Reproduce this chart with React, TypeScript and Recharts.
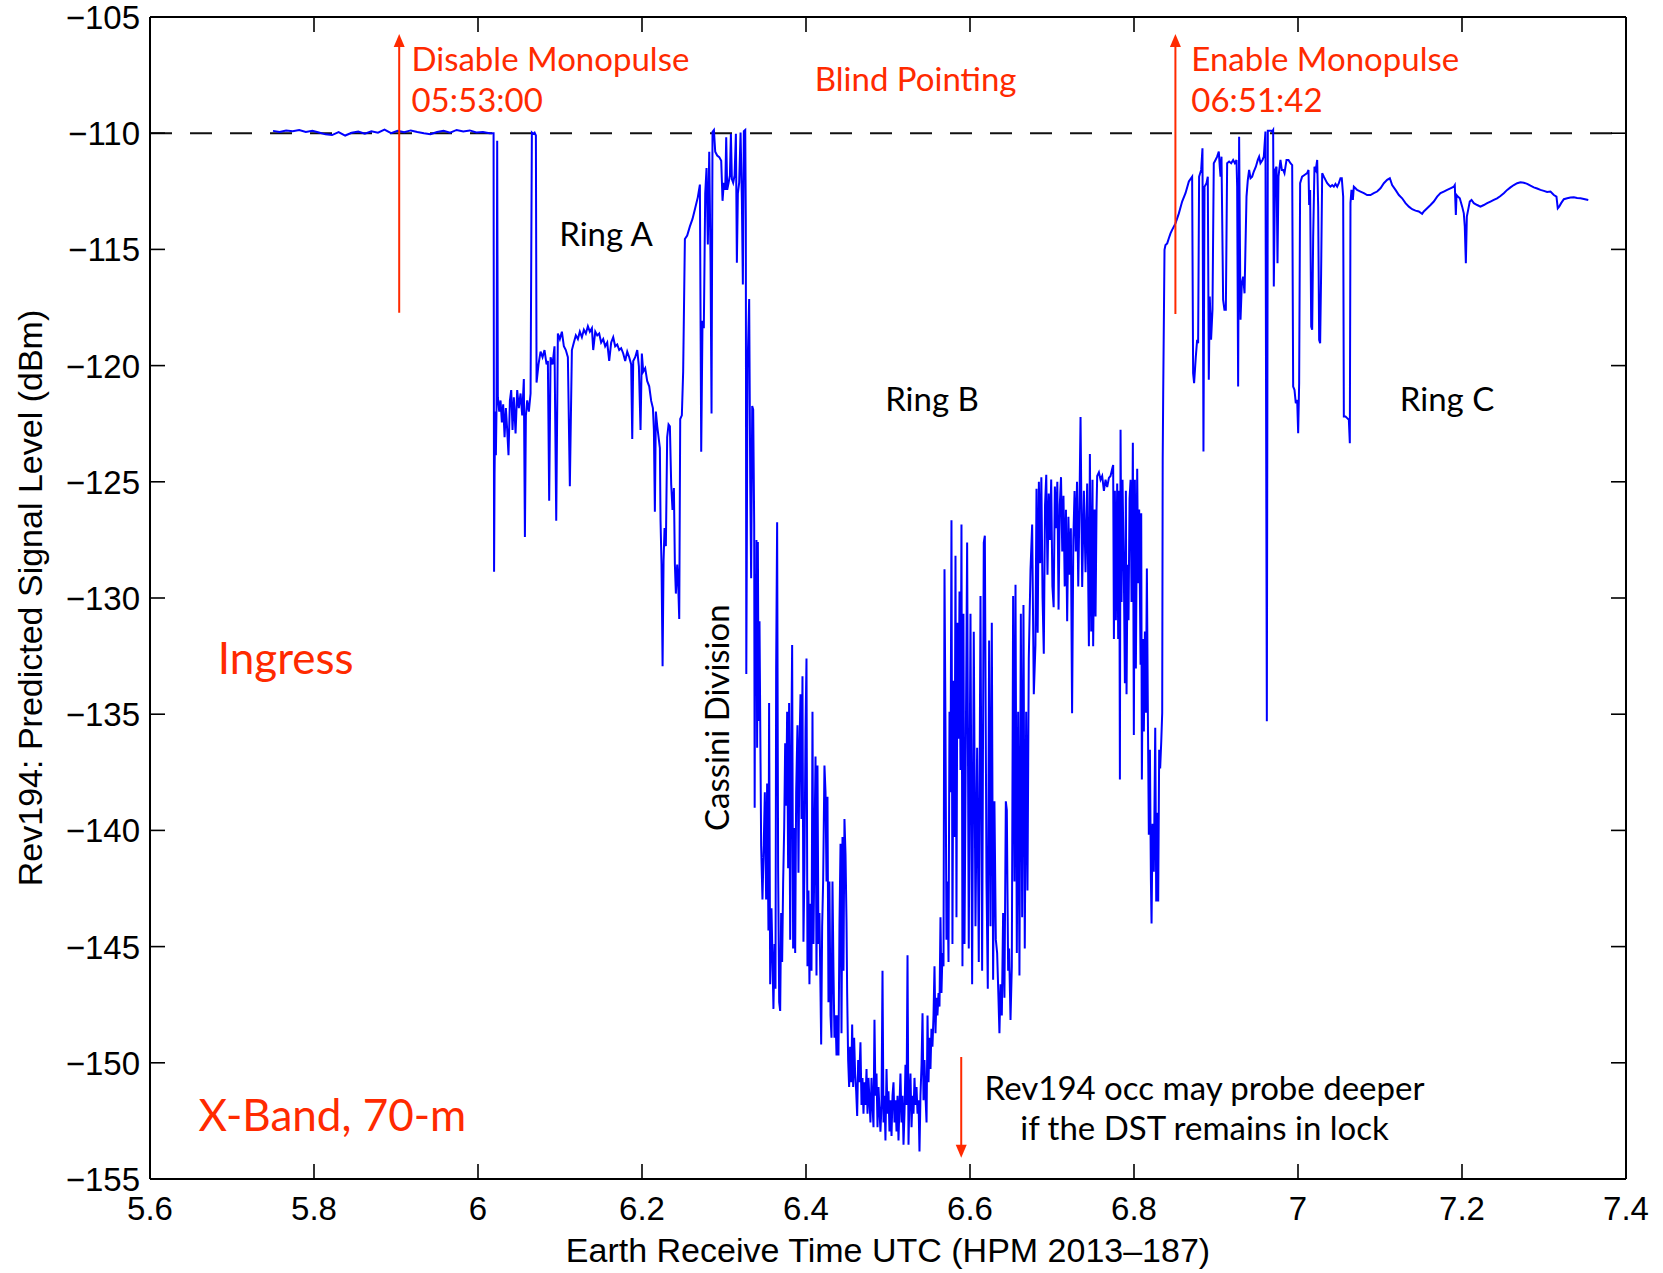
import React from 'react';
import { LineChart, Line, XAxis, YAxis, ReferenceLine, ReferenceDot } from 'recharts';

// [hours UTC, predicted signal level dBm]
const preRings: [number, number][] = [
  [5.750,-109.90],[5.758,-109.95],[5.766,-109.88],[5.774,-109.92],[5.782,-109.86],[5.790,-109.95],
  [5.798,-109.90],[5.806,-109.97],[5.814,-110.05],[5.822,-110.08],[5.830,-109.95],[5.838,-110.10],
  [5.846,-109.98],[5.854,-109.93],[5.862,-110.02],[5.870,-109.92],[5.878,-109.98],[5.886,-109.85],
  [5.894,-110.00],[5.902,-109.90],[5.910,-109.96],[5.918,-109.88],[5.926,-109.95],[5.934,-110.00],
  [5.942,-110.04],[5.950,-109.95],[5.958,-109.90],[5.966,-109.98],[5.974,-109.86],[5.982,-109.93],
  [5.990,-109.88],[5.998,-109.97],[6.006,-109.95],[6.014,-110.00],[6.019,-110.00],
];

const ringA: [number, number][] = [
  [6.0196,-128.87],[6.0202,-124.64],[6.0210,-121.98],[6.0218,-123.86],[6.0226,-121.83],[6.0234,-110.33],
  [6.0242,-121.36],[6.0259,-121.98],[6.0275,-121.50],[6.0291,-122.45],[6.0307,-121.67],[6.0324,-123.08],
  [6.0340,-121.83],[6.0356,-122.77],[6.0372,-123.86],[6.0389,-121.50],[6.0405,-121.05],[6.0421,-122.77],
  [6.0437,-121.36],[6.0458,-122.92],[6.0478,-121.05],[6.0498,-121.83],[6.0519,-121.20],[6.0539,-122.14],
  [6.0559,-120.58],[6.0572,-127.38],[6.0584,-122.14],[6.0600,-121.50],[6.0620,-121.98],[6.0641,-121.20],
  [6.0657,-109.97],[6.0673,-110.02],[6.0690,-109.97],[6.0706,-110.10],[6.0714,-120.73],[6.0738,-119.95],
  [6.0763,-119.40],[6.0787,-119.64],[6.0811,-119.33],[6.0836,-119.95],[6.0852,-119.80],[6.0868,-125.82],
  [6.0885,-119.64],[6.0909,-119.95],[6.0933,-119.17],[6.0954,-126.68],[6.0974,-118.62],[6.0998,-118.86],
  [6.1023,-118.54],[6.1047,-119.17],[6.1071,-119.33],[6.1096,-119.64],[6.1120,-125.19],[6.1145,-119.33],
  [6.1169,-119.01],[6.1193,-118.70],[6.1218,-118.86],[6.1242,-118.54],[6.1267,-118.78],[6.1291,-118.46],
  [6.1315,-118.62],[6.1340,-118.31],[6.1364,-118.54],[6.1389,-118.39],[6.1405,-119.33],[6.1430,-118.54],
  [6.1454,-118.70],[6.1478,-118.62],[6.1502,-119.01],[6.1527,-118.86],[6.1551,-119.17],[6.1576,-119.01],
  [6.1600,-119.80],[6.1624,-119.01],[6.1649,-118.78],[6.1673,-119.17],[6.1698,-119.09],[6.1722,-119.33],
  [6.1746,-119.25],[6.1771,-119.48],[6.1795,-119.80],[6.1820,-119.40],[6.1844,-119.64],[6.1868,-119.95],
  [6.1881,-123.16],[6.1893,-119.80],[6.1917,-119.64],[6.1942,-119.33],[6.1962,-120.03],[6.1982,-122.77],
  [6.1998,-119.48],[6.2015,-120.26],[6.2039,-120.11],[6.2063,-120.66],[6.2088,-120.89],[6.2112,-121.52],
  [6.2133,-121.83],[6.2145,-122.77],[6.2157,-126.29],[6.2169,-121.98],[6.2186,-122.61],[6.2202,-123.08],
  [6.2218,-123.55],[6.2226,-126.68],[6.2238,-128.56],[6.2251,-132.94],[6.2263,-128.40],[6.2275,-126.99],
  [6.2291,-127.77],[6.2307,-123.08],[6.2324,-122.53],[6.2340,-122.61],[6.2356,-125.11],[6.2372,-126.21],
  [6.2389,-125.27],[6.2401,-128.56],[6.2413,-129.81],[6.2429,-128.56],[6.2441,-129.34],[6.2454,-130.90],
  [6.2466,-122.30],[6.2486,-122.14],[6.2502,-120.26],[6.2523,-114.55],[6.2551,-114.40],[6.2584,-114.01],
  [6.2616,-113.69],[6.2649,-113.22],[6.2681,-112.75],[6.2706,-112.21],[6.2722,-123.71],[6.2738,-118.07],
  [6.2754,-118.39],[6.2771,-112.60],[6.2787,-111.50],[6.2803,-114.79],[6.2820,-110.80],[6.2836,-115.57],
  [6.2848,-122.06],[6.2860,-109.94],[6.2877,-109.86],[6.2893,-110.80],[6.2917,-110.96],[6.2942,-111.03],
  [6.2966,-111.19],[6.2982,-112.91],[6.2998,-112.13],[6.3015,-112.44],[6.3027,-110.17],[6.3039,-112.44],
  [6.3056,-112.13],[6.3072,-111.82],[6.3084,-110.02],[6.3096,-111.97],[6.3112,-112.13],[6.3129,-111.82],
  [6.3145,-110.02],[6.3157,-115.57],[6.3169,-112.60],[6.3185,-112.13],[6.3202,-109.97],[6.3218,-112.91],
  [6.3230,-116.51],[6.3242,-109.91],[6.3259,-109.86],[6.3266,-113.69],
];

const ringB: [number, number][] = [
  [6.3272,-133.27],[6.3287,-120.10],[6.3307,-117.13],[6.3320,-125.03],[6.3331,-129.15],[6.3344,-121.74],
  [6.3356,-121.90],[6.3368,-126.85],[6.3374,-139.03],[6.3381,-128.99],[6.3388,-133.20],[6.3396,-127.50],
  [6.3404,-136.44],[6.3413,-127.59],[6.3422,-135.29],[6.3433,-131.00],[6.3453,-140.67],[6.3469,-142.97],
  [6.3485,-140.57],[6.3498,-138.36],[6.3514,-142.97],[6.3526,-137.98],[6.3542,-144.31],[6.3550,-134.52],
  [6.3563,-146.62],[6.3579,-143.35],[6.3591,-145.47],[6.3603,-147.68],[6.3616,-144.89],[6.3628,-146.81],
  [6.3636,-132.98],[6.3648,-126.74],[6.3660,-141.63],[6.3673,-147.39],[6.3685,-147.77],[6.3697,-143.55],
  [6.3709,-145.66],[6.3721,-142.30],[6.3734,-139.90],[6.3746,-136.25],[6.3758,-138.94],[6.3770,-134.90],
  [6.3782,-141.63],[6.3794,-134.52],[6.3807,-144.70],[6.3819,-137.21],[6.3831,-132.02],[6.3843,-145.08],
  [6.3855,-139.90],[6.3868,-145.28],[6.3880,-138.36],[6.3896,-135.48],[6.3908,-141.82],[6.3920,-136.44],
  [6.3933,-134.14],[6.3945,-139.51],[6.3957,-133.37],[6.3969,-144.79],[6.3981,-141.63],[6.3994,-135.67],
  [6.4006,-132.60],[6.4018,-145.85],[6.4030,-142.59],[6.4042,-146.62],[6.4055,-143.16],[6.4067,-146.04],
  [6.4079,-134.90],[6.4091,-144.89],[6.4103,-140.67],[6.4116,-136.82],[6.4128,-146.24],[6.4140,-137.21],
  [6.4152,-144.89],[6.4164,-143.55],[6.4177,-147.00],[6.4185,-149.21],[6.4197,-144.12],[6.4209,-142.20],
  [6.4225,-137.21],[6.4238,-138.36],[6.4250,-142.20],[6.4262,-138.55],[6.4274,-147.39],[6.4286,-142.20],
  [6.4299,-147.96],[6.4311,-148.92],[6.4323,-142.20],[6.4335,-146.04],[6.4347,-148.92],[6.4360,-147.96],
  [6.4372,-149.69],[6.4384,-147.96],[6.4396,-149.69],[6.4408,-144.12],[6.4421,-140.57],[6.4433,-148.73],
  [6.4445,-140.28],[6.4457,-146.04],[6.4469,-139.51],[6.4482,-141.05],[6.4494,-143.93],[6.4502,-147.00],
  [6.4514,-149.88],[6.4526,-151.04],[6.4538,-149.31],[6.4551,-150.84],[6.4563,-148.35],[6.4575,-151.04],
  [6.4587,-148.92],[6.4599,-150.46],[6.4612,-151.23],[6.4624,-152.29],[6.4636,-149.88],[6.4648,-150.84],
  [6.4664,-149.12],[6.4677,-151.81],[6.4689,-150.65],[6.4701,-152.19],[6.4713,-150.84],[6.4725,-151.81],
  [6.4738,-150.27],[6.4750,-152.19],[6.4762,-150.65],[6.4774,-151.61],[6.4786,-152.57],[6.4799,-150.65],
  [6.4811,-151.81],[6.4823,-152.77],[6.4835,-148.15],[6.4847,-151.42],[6.4860,-150.46],[6.4872,-152.77],
  [6.4884,-151.04],[6.4896,-152.00],[6.4908,-152.96],[6.4921,-151.81],[6.4933,-146.04],[6.4945,-152.57],
  [6.4957,-151.42],[6.4969,-153.34],[6.4982,-150.27],[6.4994,-152.19],[6.5006,-151.23],[6.5018,-152.96],
  [6.5030,-151.61],[6.5043,-153.15],[6.5055,-151.42],[6.5067,-150.84],[6.5079,-152.57],[6.5091,-151.61],
  [6.5104,-152.96],[6.5116,-151.42],[6.5128,-153.34],[6.5140,-151.81],[6.5152,-150.46],[6.5165,-152.57],
  [6.5177,-151.42],[6.5189,-153.53],[6.5201,-152.19],[6.5213,-150.08],[6.5226,-151.81],[6.5238,-145.37],
  [6.5250,-153.53],[6.5262,-151.42],[6.5274,-150.46],[6.5287,-152.77],[6.5299,-151.42],[6.5311,-152.19],
  [6.5323,-150.65],[6.5335,-151.81],[6.5348,-151.04],[6.5360,-152.19],[6.5372,-151.61],[6.5384,-153.82],
  [6.5396,-151.42],[6.5409,-150.08],[6.5421,-147.87],[6.5433,-151.61],[6.5445,-149.88],[6.5457,-151.42],
  [6.5470,-152.57],[6.5482,-147.96],[6.5494,-150.84],[6.5506,-148.92],[6.5518,-150.27],[6.5530,-148.54],
  [6.5542,-149.31],[6.5555,-147.96],[6.5567,-145.85],[6.5579,-148.73],[6.5591,-147.20],[6.5603,-147.96],
  [6.5616,-147.00],[6.5628,-147.58],[6.5640,-143.74],[6.5652,-147.00],[6.5664,-145.28],[6.5677,-145.85],
  [6.5689,-128.76],[6.5701,-135.67],[6.5713,-144.70],[6.5725,-142.20],[6.5738,-145.66],[6.5750,-134.90],
  [6.5762,-138.36],[6.5774,-126.65],[6.5786,-144.89],[6.5799,-133.56],[6.5811,-140.28],[6.5823,-128.18],
  [6.5835,-143.74],[6.5847,-131.06],[6.5860,-136.06],[6.5872,-129.72],[6.5884,-137.40],[6.5896,-126.84],
  [6.5908,-145.85],[6.5920,-130.68],[6.5933,-144.89],[6.5965,-127.61],[6.5985,-145.08],[6.6006,-130.68],
  [6.6026,-146.62],[6.6046,-131.45],[6.6067,-144.12],[6.6087,-136.44],[6.6107,-145.66],[6.6128,-129.91],
  [6.6148,-146.04],[6.6168,-127.61],[6.6181,-127.32],[6.6201,-142.20],[6.6217,-146.81],[6.6233,-131.83],
  [6.6250,-144.12],[6.6266,-131.06],[6.6282,-146.43],[6.6298,-138.75],[6.6315,-144.70],[6.6331,-145.28],
  [6.6347,-147.20],[6.6359,-148.73],[6.6372,-146.62],[6.6388,-147.96],[6.6404,-143.55],[6.6420,-147.20],
  [6.6437,-138.75],[6.6449,-139.13],[6.6465,-146.04],[6.6477,-145.08],[6.6494,-148.16],[6.6510,-145.85],
  [6.6526,-129.91],[6.6542,-142.20],[6.6555,-129.43],[6.6571,-145.28],[6.6587,-134.90],[6.6603,-146.24],
  [6.6620,-130.68],[6.6636,-143.74],[6.6652,-130.30],[6.6668,-145.08],[6.6685,-134.90],[6.6701,-142.59],
  [6.6717,-132.60],[6.6738,-128.76],[6.6758,-126.84],[6.6778,-134.14],[6.6798,-132.02],[6.6811,-125.30],
  [6.6825,-131.50],[6.6840,-125.00],[6.6855,-128.50],[6.6870,-124.80],[6.6885,-130.00],[6.6900,-132.40],
  [6.6915,-126.00],[6.6930,-124.70],[6.6945,-129.00],[6.6960,-125.50],[6.6975,-127.50],[6.6990,-124.90],
  [6.7005,-129.50],[6.7020,-130.40],[6.7035,-125.20],[6.7050,-127.00],[6.7065,-125.00],[6.7080,-130.50],
  [6.7095,-126.00],[6.7110,-124.80],[6.7125,-128.00],[6.7140,-125.60],[6.7155,-129.50],[6.7170,-126.20],
  [6.7185,-131.00],[6.7200,-126.50],[6.7215,-129.00],[6.7230,-127.00],[6.7245,-134.96],[6.7260,-127.50],
  [6.7275,-125.40],[6.7290,-128.00],[6.7305,-125.00],[6.7320,-129.50],[6.7335,-126.00],[6.7348,-122.21],
  [6.7368,-129.53],[6.7389,-125.39],[6.7409,-128.89],[6.7429,-125.07],[6.7450,-132.08],[6.7462,-123.80],
  [6.7478,-131.44],[6.7494,-124.91],[6.7502,-132.08],[6.7519,-126.19],[6.7531,-130.80],[6.7543,-126.19],
  [6.7551,-124.75],[6.7572,-124.59],[6.7592,-124.91],[6.7612,-124.75],[6.7633,-125.39],[6.7653,-124.91],
  [6.7673,-125.23],[6.7694,-124.83],[6.7714,-124.75],[6.7734,-124.44],[6.7746,-124.28],[6.7755,-131.76],
  [6.7767,-125.39],[6.7779,-130.96],[6.7795,-125.07],[6.7807,-131.76],[6.7820,-125.39],[6.7828,-137.81],
  [6.7836,-122.76],[6.7848,-130.17],[6.7860,-124.91],[6.7876,-128.89],[6.7889,-133.67],[6.7901,-125.39],
  [6.7909,-134.14],[6.7921,-128.57],[6.7933,-130.96],[6.7946,-125.71],[6.7958,-124.91],[6.7970,-130.17],
  [6.7978,-127.78],[6.7986,-123.32],[6.7998,-135.90],[6.8011,-124.91],[6.8023,-133.03],[6.8039,-124.44],
  [6.8051,-129.37],[6.8063,-126.19],[6.8080,-132.87],[6.8088,-126.35],[6.8096,-137.81],[6.8108,-131.76],
  [6.8120,-135.74],[6.8133,-131.44],[6.8145,-134.94],[6.8157,-128.73],[6.8169,-134.94],[6.8181,-140.19],
  [6.8194,-136.53],[6.8206,-142.10],[6.8214,-144.01],[6.8226,-139.71],[6.8242,-141.78],[6.8259,-135.58],
  [6.8271,-143.06],[6.8283,-139.24],[6.8295,-143.06],[6.8307,-136.53],[6.8319,-137.33],[6.8332,-136.21],
  [6.8344,-134.94],[6.8350,-124.06],
];

const ringC: [number, number][] = [
  [6.8356,-121.25],[6.8372,-115.02],[6.8384,-114.81],[6.8405,-114.74],[6.8425,-114.52],[6.8445,-114.31],
  [6.8465,-114.16],[6.8506,-113.88],[6.8547,-113.45],[6.8587,-112.94],[6.8628,-112.58],[6.8669,-112.08],
  [6.8709,-111.87],[6.8721,-120.33],[6.8733,-120.76],[6.8754,-119.61],[6.8770,-118.89],[6.8782,-119.04],
  [6.8794,-111.87],[6.8819,-111.58],[6.8835,-110.65],[6.8847,-123.70],[6.8860,-112.30],[6.8884,-112.15],
  [6.8900,-111.87],[6.8912,-120.61],[6.8924,-117.03],[6.8940,-118.89],[6.8957,-117.60],[6.8973,-111.29],
  [6.8994,-111.15],[6.9014,-111.01],[6.9034,-110.79],[6.9046,-111.44],[6.9055,-111.87],[6.9067,-111.01],
  [6.9087,-117.17],[6.9103,-117.60],[6.9120,-117.60],[6.9136,-111.29],[6.9160,-111.22],[6.9185,-111.29],
  [6.9209,-111.15],[6.9230,-111.29],[6.9250,-111.15],[6.9258,-112.30],[6.9270,-120.90],[6.9282,-110.15],
  [6.9299,-118.03],[6.9315,-116.46],[6.9331,-116.17],[6.9348,-116.89],[6.9372,-112.73],[6.9388,-112.01],
  [6.9404,-111.58],[6.9421,-111.94],[6.9441,-111.87],[6.9461,-111.65],[6.9486,-111.44],[6.9510,-111.15],
  [6.9526,-111.01],[6.9542,-111.29],[6.9567,-111.15],[6.9583,-111.01],[6.9603,-109.93],[6.9620,-135.30],
  [6.9632,-109.89],[6.9652,-109.89],[6.9673,-109.89],[6.9685,-109.93],[6.9697,-109.86],[6.9705,-116.60],
  [6.9721,-111.58],[6.9738,-111.44],[6.9750,-115.60],[6.9762,-111.87],[6.9786,-111.15],[6.9803,-111.58],
  [6.9819,-111.58],[6.9835,-111.72],[6.9860,-111.15],[6.9884,-111.15],[6.9908,-111.29],[6.9929,-111.37],
  [6.9941,-120.90],[6.9957,-121.04],[6.9973,-121.62],[6.9990,-121.48],[7.0002,-122.91],[7.0014,-120.76],
  [7.0026,-112.15],[7.0050,-111.87],[7.0079,-111.80],[7.0112,-111.72],[7.0128,-111.58],[7.0136,-113.09],
  [7.0148,-112.44],[7.0161,-118.32],[7.0173,-118.46],[7.0185,-114.45],[7.0201,-111.44],[7.0217,-111.58],
  [7.0234,-111.15],[7.0246,-113.16],[7.0258,-118.89],[7.0270,-119.04],[7.0282,-116.03],[7.0295,-111.72],
  [7.0315,-111.87],[7.0335,-112.01],[7.0356,-112.15],[7.0376,-112.23],[7.0396,-112.30],[7.0417,-112.23],
  [7.0437,-112.30],[7.0457,-112.18],[7.0478,-112.30],[7.0498,-112.15],[7.0518,-111.94],[7.0534,-111.94],
  [7.0551,-112.73],[7.0559,-122.19],[7.0579,-122.19],[7.0600,-122.26],[7.0620,-122.33],[7.0632,-123.34],
  [7.0640,-113.01],[7.0652,-112.44],[7.0669,-112.87],[7.0681,-112.30],[7.0701,-112.37],[7.0721,-112.44],
  [7.0762,-112.51],[7.0803,-112.58],[7.0843,-112.66],[7.0884,-112.66],[7.0924,-112.58],[7.0965,-112.51],
  [7.1006,-112.37],[7.1047,-112.15],[7.1087,-112.01],[7.1120,-111.94],[7.1148,-112.23],[7.1189,-112.44],
  [7.1230,-112.66],[7.1270,-112.80],[7.1311,-113.01],[7.1352,-113.16],[7.1392,-113.27],[7.1433,-113.33],
  [7.1473,-113.37],[7.1514,-113.47],[7.1534,-113.37],[7.1575,-113.23],[7.1616,-113.09],[7.1656,-112.94],
  [7.1697,-112.73],[7.1738,-112.58],[7.1778,-112.51],[7.1819,-112.44],[7.1859,-112.37],[7.1900,-112.30],
  [7.1912,-112.23],[7.1925,-113.52],[7.1933,-112.66],[7.1949,-112.73],[7.1973,-112.80],[7.2002,-113.16],
  [7.2022,-113.45],[7.2034,-114.02],[7.2047,-115.60],[7.2059,-113.59],[7.2075,-113.30],[7.2095,-112.94],
  [7.2116,-112.87],[7.2144,-113.01],[7.2185,-113.09],[7.2225,-113.16],[7.2266,-113.09],[7.2307,-113.01],
  [7.2347,-112.94],[7.2388,-112.87],[7.2428,-112.80],[7.2469,-112.70],[7.2510,-112.58],[7.2551,-112.44],
  [7.2591,-112.33],[7.2632,-112.23],[7.2673,-112.15],[7.2713,-112.11],[7.2754,-112.13],[7.2795,-112.18],
  [7.2835,-112.26],[7.2876,-112.33],[7.2916,-112.38],[7.2957,-112.44],[7.2998,-112.48],[7.3038,-112.53],
  [7.3079,-112.51],[7.3120,-112.66],[7.3152,-112.73],[7.3168,-113.23],[7.3185,-113.16],[7.3209,-113.01],
  [7.3242,-112.84],[7.3283,-112.80],[7.3323,-112.77],[7.3364,-112.76],[7.3404,-112.79],[7.3445,-112.80],
  [7.3486,-112.83],[7.3540,-112.87],
];

const xTicks = [5.6, 5.8, 6, 6.2, 6.4, 6.6, 6.8, 7, 7.2, 7.4];
const yTicks = [-155, -150, -145, -140, -135, -130, -125, -120, -115, -110, -105];
const threshold = -110;

const data = [...preRings, ...ringA, ...ringB, ...ringC].map(([t, v]) => ({ t, v }));

const W = 1663;
const H = 1273;
const TOP = 17;
const RIGHT = 37;
const X_AXIS_H = 94;
const Y_AXIS_W = 150;
const TICK_LEN = 15;
const AXIS_FONT = '"Liberation Sans", Arial, Helvetica, sans-serif';
const NOTE_FONT = 'Lato, "Open Sans", sans-serif';
const RED = '#ff2a00';

const XTick = (p: any) => {
  const { x, y, payload } = p;
  return (
    <g>
      <line x1={x} y1={y} x2={x} y2={y - TICK_LEN} stroke="#000" strokeWidth={1.6} />
      <line x1={x} y1={TOP} x2={x} y2={TOP + TICK_LEN} stroke="#000" strokeWidth={1.6} />
      <text x={x} y={y + 41} textAnchor="middle" fontSize={33} fontFamily={AXIS_FONT} fill="#000">
        {String(payload.value)}
      </text>
    </g>
  );
};

const YTick = (p: any) => {
  const { x, y, payload } = p;
  const right = W - RIGHT;
  return (
    <g>
      <line x1={x} y1={y} x2={x + TICK_LEN} y2={y} stroke="#000" strokeWidth={1.6} />
      <line x1={right} y1={y} x2={right - TICK_LEN} y2={y} stroke="#000" strokeWidth={1.6} />
      <text x={x - 10} y={y + 12} textAnchor="end" fontSize={33} fontFamily={AXIS_FONT} fill="#000">
        {'\u2212' + Math.abs(payload.value)}
      </text>
    </g>
  );
};

const XTitle = (p: any) => {
  const vb = p.viewBox || {};
  return (
    <text x={vb.x + vb.width / 2} y={H - 11} textAnchor="middle" fontSize={34} fontFamily={AXIS_FONT} fill="#000">
      Earth Receive Time UTC (HPM 2013–187)
    </text>
  );
};

const YTitle = (p: any) => {
  const vb = p.viewBox || {};
  const cy = vb.y + vb.height / 2;
  return (
    <text x={42} y={cy} transform={`rotate(-90 42 ${cy})`} textAnchor="middle" fontSize={34} fontFamily={AXIS_FONT} fill="#000">
      Rev194: Predicted Signal Level (dBm)
    </text>
  );
};

const arrowShape = (color: string) => (p: any) => {
  const { x1, y1, x2, y2 } = p;
  const dir = y2 < y1 ? 1 : -1;
  return (
    <g>
      <line x1={x1} y1={y1} x2={x2} y2={y2 + dir * 10} stroke={color} strokeWidth={2} />
      <polygon points={`${x2},${y2} ${x2 - 5.5},${y2 + dir * 13} ${x2 + 5.5},${y2 + dir * 13}`} fill={color} />
    </g>
  );
};

interface Note {
  x: number;
  y: number;
  text: string;
  color: string;
  size: number;
  anchor: 'start' | 'middle' | 'end';
  angle?: number;
}

const notes: Note[] = [
  { x: 5.9189, y: -107.33, text: 'Disable Monopulse', color: RED, size: 33, anchor: 'start' },
  { x: 5.9189, y: -109.07, text: '05:53:00', color: RED, size: 33, anchor: 'start' },
  { x: 6.5337, y: -108.19, text: 'Blind Pointing', color: RED, size: 33, anchor: 'middle' },
  { x: 6.8699, y: -107.33, text: 'Enable Monopulse', color: RED, size: 33, anchor: 'start' },
  { x: 6.8699, y: -109.07, text: '06:51:42', color: RED, size: 33, anchor: 'start' },
  { x: 6.1561, y: -114.85, text: 'Ring A', color: '#000', size: 33, anchor: 'middle' },
  { x: 6.5537, y: -121.97, text: 'Ring B', color: '#000', size: 33, anchor: 'middle' },
  { x: 7.1817, y: -121.97, text: 'Ring C', color: '#000', size: 33, anchor: 'middle' },
  { x: 6.3061, y: -135.15, text: 'Cassini Division', color: '#000', size: 33, anchor: 'middle', angle: -90 },
  { x: 5.7655, y: -133.28, text: 'Ingress', color: RED, size: 44, anchor: 'middle' },
  { x: 5.8224, y: -152.95, text: 'X-Band, 70-m', color: RED, size: 44, anchor: 'middle' },
  { x: 6.8860, y: -151.58, text: 'Rev194 occ may probe deeper', color: '#000', size: 33, anchor: 'middle' },
  { x: 6.8860, y: -153.31, text: 'if the DST remains in lock', color: '#000', size: 33, anchor: 'middle' },
];

const noteShape = (n: Note) => (p: any) => {
  const { cx, cy } = p;
  return (
    <text
      x={cx}
      y={cy}
      textAnchor={n.anchor}
      fontSize={n.size}
      fontFamily={NOTE_FONT}
      fill={n.color}
      transform={n.angle ? `rotate(${n.angle} ${cx} ${cy})` : undefined}
    >
      {n.text}
    </text>
  );
};

export default function App() {
  return (
    <div style={{ position: 'absolute', left: 0, top: 0, width: W, height: H, background: '#fff' }}>
      <LineChart width={W} height={H} data={data} margin={{ top: TOP, right: RIGHT, bottom: 0, left: 0 }}>
        <XAxis
          dataKey="t"
          type="number"
          domain={[5.6, 7.4]}
          ticks={xTicks}
          interval={0}
          allowDataOverflow
          height={X_AXIS_H}
          tickLine={false}
          tickSize={0}
          tickMargin={0}
          tick={XTick}
          axisLine={{ stroke: '#000', strokeWidth: 2 }}
          label={<XTitle />}
        />
        <YAxis
          type="number"
          domain={[-155, -105]}
          ticks={yTicks}
          interval={0}
          allowDataOverflow
          width={Y_AXIS_W}
          tickLine={false}
          tickSize={0}
          tickMargin={0}
          tick={YTick}
          axisLine={{ stroke: '#000', strokeWidth: 2 }}
          label={<YTitle />}
        />
        <ReferenceLine y={-105} stroke="#000" strokeWidth={2} ifOverflow="visible" />
        <ReferenceLine x={7.4} stroke="#000" strokeWidth={2} ifOverflow="visible" />
        <ReferenceLine y={threshold} stroke="#111" strokeWidth={2} strokeDasharray="22 18" />
        <Line
          dataKey="v"
          type="linear"
          stroke="#0000ff"
          strokeWidth={2}
          dot={false}
          activeDot={false}
          isAnimationActive={false}
        />
        <ReferenceLine
          segment={[{ x: 5.9039, y: -117.73 }, { x: 5.9039, y: -105.73 }]}
          shape={arrowShape(RED)}
        />
        <ReferenceLine
          segment={[{ x: 6.8505, y: -117.78 }, { x: 6.8505, y: -105.73 }]}
          shape={arrowShape(RED)}
        />
        <ReferenceLine
          segment={[{ x: 6.5893, y: -149.75 }, { x: 6.5893, y: -154.09 }]}
          shape={arrowShape(RED)}
        />
        {notes.map((n, i) => (
          <ReferenceDot key={i} x={n.x} y={n.y} r={0} shape={noteShape(n)} />
        ))}
      </LineChart>
    </div>
  );
}
